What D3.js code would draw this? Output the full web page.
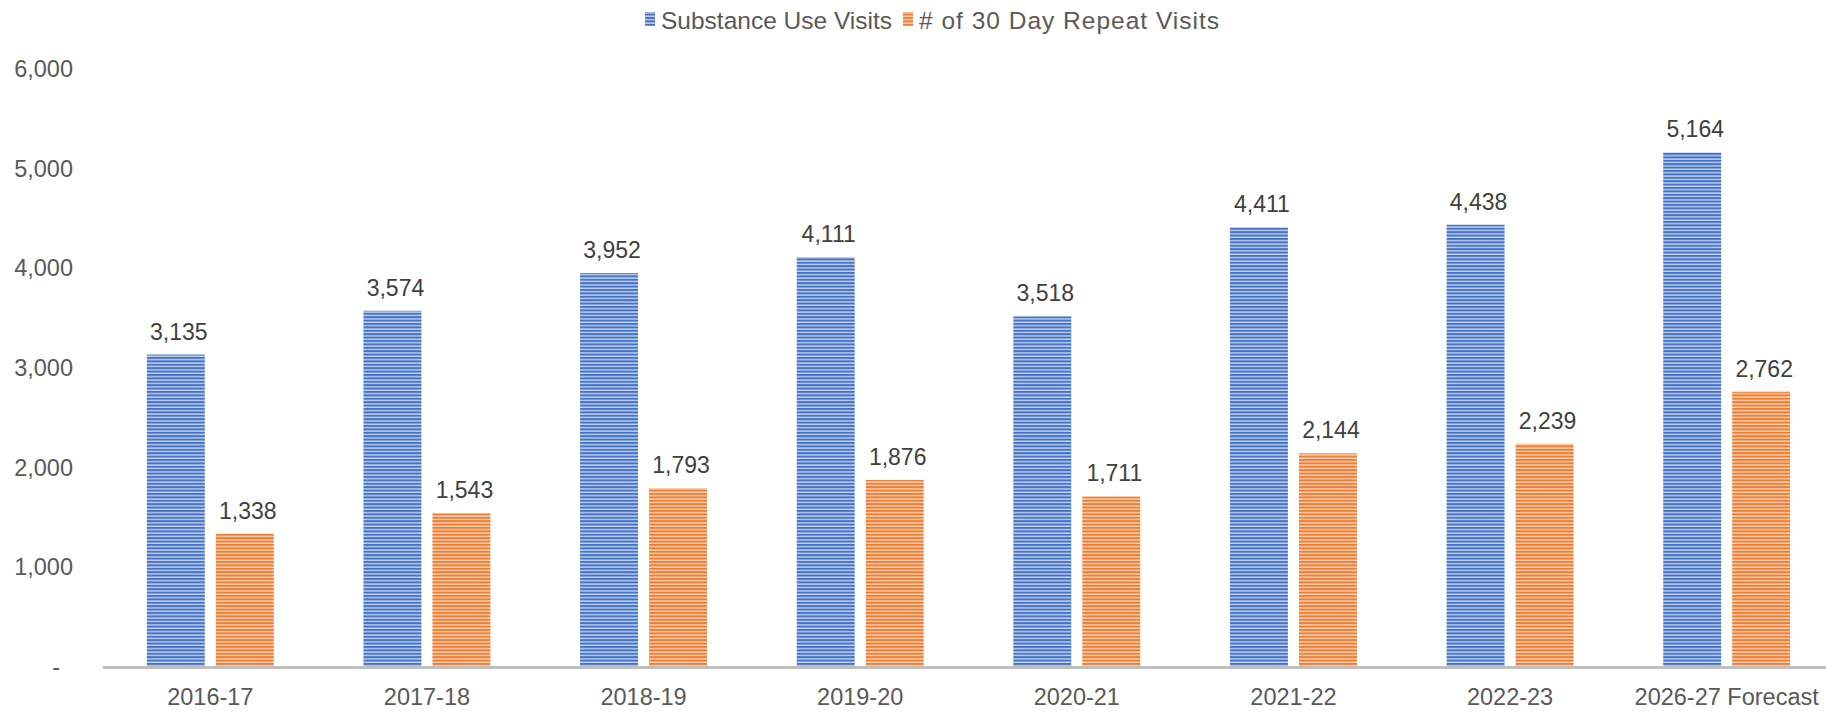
<!DOCTYPE html>
<html>

<head>
  <title>Substance Use Visits</title>

  <style>
    body,
    html {
      margin: 0;
      padding: 0;
      background: #fff;
    }

    text {
      font-family: "Liberation Sans", Arial, sans-serif;
    }
  </style>
</head>

<body>

  <svg id="svg" width="1826" height="711"></svg>

  <script src="https://d3js.org/d3.v7.min.js"></script>
  <script>
    const categories = ["2016-17", "2017-18", "2018-19", "2019-20", "2020-21", "2021-22", "2022-23", "2026-27 Forecast"]
    const seriesNames = ["Substance Use Visits", "# of 30 Day Repeat Visits"]
    const substanceUse = [3135, 3574, 3952, 4111, 3518, 4411, 4438, 5164]
    const repeatVisits = [1338, 1543, 1793, 1876, 1711, 2144, 2239, 2762]
    const yTicks = [0, 1000, 2000, 3000, 4000, 5000, 6000]

    const colors = ["#4472C4", "#ED7D31"]
    const lightColors = ["#c3d2ee", "#f9d3b8"]

    const svg = d3.select("#svg")
    const W = 1826

    // striped fills
    const defs = svg.append("defs")
    colors.forEach((c, i) => {
      const p = defs.append("pattern")
        .attr("id", "stripe" + i)
        .attr("patternUnits", "userSpaceOnUse")
        .attr("width", 8)
        .attr("height", 3.4)
      p.append("rect").attr("width", 8).attr("height", 3.4).attr("fill", c)
      p.append("rect").attr("y", 2.0).attr("width", 8).attr("height", 1.4).attr("fill", lightColors[i])
    })

    const xScale = d3.scaleBand()
      .domain(categories)
      .range([102, 1835])
      .paddingInner(0.414)
      .paddingOuter(0.207)

    const xSub = d3.scaleBand()
      .domain([0, 1])
      .range([0, xScale.bandwidth()])
      .paddingInner(0.16)

    const yScale = d3.scaleLinear()
      .domain([0, 6000])
      .range([667, 69])

    const series = [substanceUse, repeatVisits]

    // y axis labels
    const yAxis = svg.append("g")
      .attr("transform", "translate(103,0)")
      .call(d3.axisLeft(yScale)
        .tickValues(yTicks)
        .tickSize(0)
        .tickPadding(30)
        .tickFormat(d => d === 0 ? "-" : d3.format(",")(d)))
    yAxis.select(".domain").remove()
    yAxis.selectAll("text")
      .attr("fill", "#595959")
      .style("font-size", "23.5px")
      .attr("dx", d => d === 0 ? -13 : 0)

    // bars
    const groups = svg.append("g")
      .selectAll("g")
      .data(series)
      .join("g")

    groups.each(function (vals, si) {
      const g = d3.select(this)
      g.selectAll("rect")
        .data(vals)
        .join("rect")
        .attr("x", (d, i) => xScale(categories[i]) + xSub(si))
        .attr("y", d => yScale(d))
        .attr("width", xSub.bandwidth())
        .attr("height", d => yScale(0) - yScale(d))
        .attr("fill", "url(#stripe" + si + ")")

      g.selectAll("text")
        .data(vals)
        .join("text")
        .attr("x", (d, i) => xScale(categories[i]) + xSub(si) + xSub.bandwidth() / 2 + 3)
        .attr("y", d => yScale(d) - 15)
        .attr("text-anchor", "middle")
        .attr("fill", "#404040")
        .style("font-size", "23px")
        .text(d => d3.format(",")(d))
    })

    // baseline
    svg.append("line")
      .attr("x1", 103)
      .attr("x2", W)
      .attr("y1", yScale(0) + 0.5)
      .attr("y2", yScale(0) + 0.5)
      .attr("stroke", "#BFBFBF")
      .attr("stroke-width", 3)

    // x axis labels
    const xAxis = svg.append("g")
      .attr("transform", "translate(0," + yScale(0) + ")")
      .call(d3.axisBottom(xScale).tickSize(0))
    xAxis.select(".domain").remove()
    xAxis.selectAll("text")
      .attr("y", 38)
      .attr("dy", 0)
      .attr("fill", "#595959")
      .style("font-size", "23.5px")

    // legend
    const legendX = [645, 903]
    const legend = svg.append("g")
      .selectAll("g")
      .data(seriesNames)
      .join("g")
      .attr("transform", (d, i) => "translate(" + legendX[i] + ",0)")
    legend.append("rect")
      .attr("y", 12)
      .attr("width", 10)
      .attr("height", 14)
      .attr("fill", (d, i) => "url(#stripe" + i + ")")
    legend.append("text")
      .attr("x", 16)
      .attr("y", 28.5)
      .attr("fill", "#595959")
      .style("font-size", "24.5px")
      .style("letter-spacing", (d, i) => i === 1 ? "1px" : "0px")
      .text(d => d)

  </script>
</body>

</html>
